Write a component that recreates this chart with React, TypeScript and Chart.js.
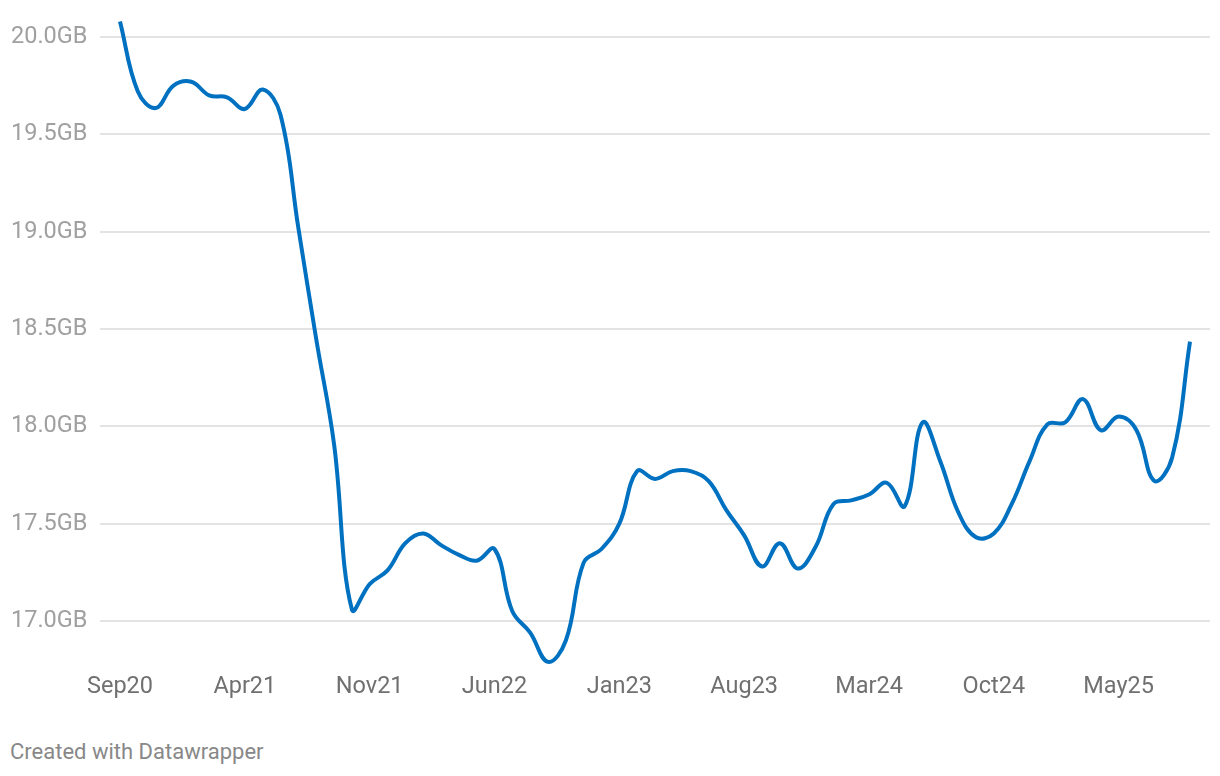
import React, { useEffect, useRef } from "react";
import { Chart, registerables } from "chart.js";

Chart.register(...registerables);

// Monthly points, Sep 2020 .. Sep 2025
const monthNames = ["Jan", "Feb", "Mar", "Apr", "May", "Jun", "Jul", "Aug", "Sep", "Oct", "Nov", "Dec"];
const startYear = 2020;
const startMonth = 8; // September (0-based)

const values: number[] = [
  20.08, 19.72, 19.635, 19.75, 19.77, 19.70, 19.69, 19.63, 19.73, 19.60,
  19.02, 18.45, 17.91, 17.06, 17.19, 17.26, 17.40, 17.45, 17.39, 17.34,
  17.31, 17.37, 17.05, 16.94, 16.79, 16.90, 17.30, 17.37, 17.50, 17.77,
  17.73, 17.77, 17.77, 17.72, 17.57, 17.44, 17.28, 17.40, 17.27, 17.38,
  17.60, 17.62, 17.65, 17.71, 17.59, 18.02, 17.82, 17.56, 17.43, 17.45,
  17.60, 17.82, 18.01, 18.02, 18.14, 17.98, 18.05, 17.98, 17.72, 17.84,
  18.435,
];

const xTickIndices: number[] = [0, 7, 14, 21, 28, 35, 42, 49, 56];
const yTickValues: number[] = [17.0, 17.5, 18.0, 18.5, 19.0, 19.5, 20.0];

const monthLabels: string[] = values.map((_, i) => {
  const m = (startMonth + i) % 12;
  const y = startYear + Math.floor((startMonth + i) / 12);
  return monthNames[m] + String(y).slice(2);
});

export default function App() {
  const canvasRef = useRef<HTMLCanvasElement | null>(null);

  useEffect(() => {
    document.body.style.margin = "0";
    const canvas = canvasRef.current;
    if (!canvas) return;
    const chart = new Chart(canvas, {
      type: "line",
      data: {
        datasets: [
          {
            data: values.map((v, i) => ({ x: i, y: v })),
            borderColor: "#0071c1",
            borderWidth: 4,
            pointRadius: 0,
            pointHoverRadius: 0,
            tension: 0.4,
            fill: false,
            borderCapStyle: "butt",
          },
        ],
      },
      options: {
        animation: false,
        responsive: false,
        maintainAspectRatio: false,
        layout: { padding: { left: 11, right: 10, top: 17.5, bottom: 0 } },
        plugins: {
          legend: { display: false },
          tooltip: { enabled: false },
        },
        scales: {
          x: {
            type: "linear",
            min: -1.1215,
            max: 60 + 1.1215,
            grid: { display: false, drawTicks: false },
            border: { display: false },
            afterBuildTicks: (scale: any) => {
              scale.ticks = xTickIndices.map((v) => ({ value: v }));
            },
            afterFit: (scale: any) => {
              scale.height = 40.3;
            },
            ticks: {
              autoSkip: false,
              maxRotation: 0,
              padding: 3,
              color: "#707070",
              font: { family: "Roboto", size: 23.5 },
              callback: (v: any) => monthLabels[Number(v)] ?? "",
            },
          },
          y: {
            min: 16.75,
            max: 20.1,
            grid: { color: "#e3e3e3", lineWidth: 2, drawTicks: false },
            border: { display: false },
            afterBuildTicks: (scale: any) => {
              scale.ticks = yTickValues.map((v) => ({ value: v }));
            },
            afterFit: (scale: any) => {
              scale.width = 89;
            },
            ticks: {
              crossAlign: "far",
              padding: 0,
              color: "#a0a0a0",
              font: { family: "Roboto", size: 23.5 },
              callback: (v: any) => Number(v).toFixed(1) + "GB",
            },
          },
        },
      },
    });
    return () => chart.destroy();
  }, []);

  return (
    <div style={{ position: "absolute", left: 0, top: 0, width: 1220, height: 776, background: "#fff" }}>
      <canvas ref={canvasRef} width={1220} height={710} style={{ display: "block" }} />
      <div
        style={{
          position: "absolute",
          left: 10,
          top: 738,
          fontFamily: "Roboto",
          fontSize: 22,
          color: "#888888",
          lineHeight: "28px",
        }}
      >
        Created with Datawrapper
      </div>
    </div>
  );
}
